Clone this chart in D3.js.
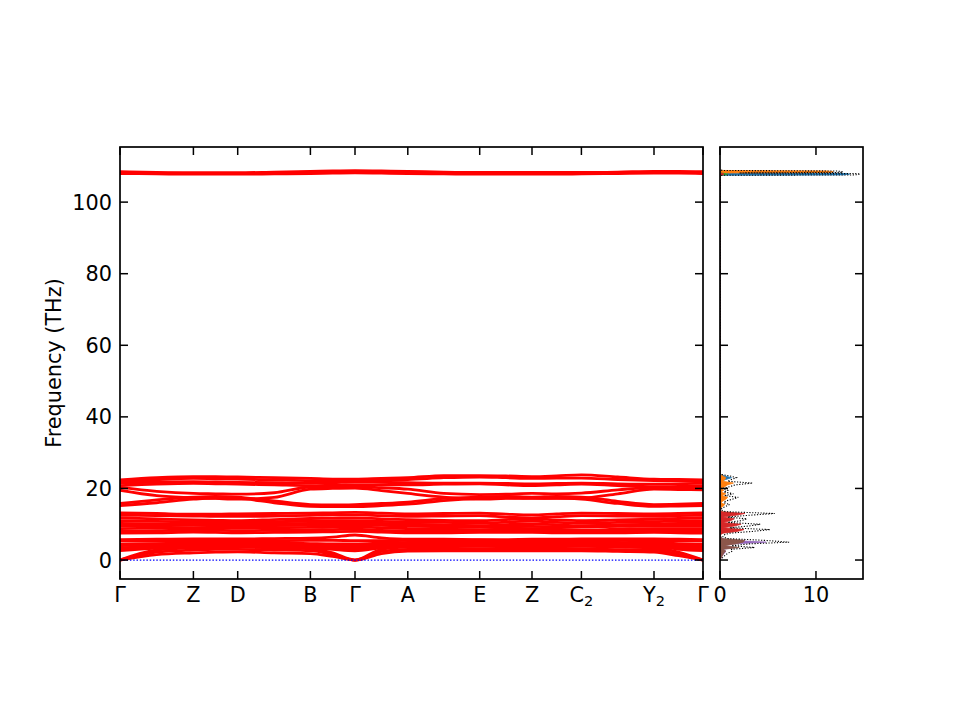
<!DOCTYPE html>
<html><head><meta charset="utf-8">
<script src="https://cdn.jsdelivr.net/npm/d3@7"></script>
<style>body{margin:0;background:#fff}svg{display:block}text{font-family:"DejaVu Sans",sans-serif;fill:#000}</style>
</head><body><div id="chart"></div>
<script>
// ---- k-path ----
const kPath = [0, 0.0367, 0.0734, 0.0956, 0.1177, 0.1541, 0.1904, 0.2127, 0.2350, 0.2614, 0.2878, 0.3238, 0.3597, 0.3859, 0.4120, 0.4367, 0.4614, 0.4977, 0.5340, 0.5585, 0.5830];
const kTickPos = [0, 0.0734, 0.1177, 0.1904, 0.2350, 0.2878, 0.3597, 0.4120, 0.4614, 0.5340, 0.5830];
const kTickLabels = [["Γ",""],["Z",""],["D",""],["B",""],["Γ",""],["A",""],["E",""],["Z",""],["C","2"],["Y","2"],["Γ",""]];
const freqTicks = [0, 20, 40, 60, 80, 100];
const dosTicks = [0, 10];

// ---- bands (THz), values at kPath points ----
const acoustic1 = [0,1.5,2.0,2.2,2.3,2.0,1.8,1.0,0,1.8,2.5,2.6,2.6,2.6,2.6,2.6,2.6,2.4,2.2,1.2,0];
const acoustic2 = [0,2.2,2.8,3.0,3.0,2.8,2.6,1.5,0,2.4,3.0,3.1,3.2,3.1,3.0,3.1,3.2,2.9,2.8,1.6,0];
const acoustic3 = [0,2.8,3.4,3.5,3.6,3.4,3.2,2.0,0,3.0,3.6,3.7,3.8,3.7,3.6,3.7,3.8,3.6,3.4,2.2,0];
const low1 = [2.6,3.3,3.8,3.9,4.0,3.8,3.5,3.0,2.6,3.4,4.0,4.1,4.0,4.0,4.0,4.1,4.0,3.9,3.8,3.0,2.6];
const low2 = [3.4,3.9,4.3,4.4,4.4,4.2,4.0,3.7,3.4,4.0,4.4,4.5,4.5,4.4,4.4,4.5,4.5,4.3,4.2,3.8,3.4];
const low3 = [4.5,4.6,4.8,4.9,4.9,4.8,4.6,4.5,4.5,4.7,4.9,5.0,5.0,4.9,4.9,5.0,5.0,4.9,4.8,4.6,4.5];
const low4 = [5.4,5.3,5.2,5.2,5.3,5.4,5.5,5.5,5.4,5.4,5.5,5.6,5.6,5.5,5.5,5.6,5.6,5.5,5.4,5.4,5.4];
const low5 = [5.7,5.8,5.9,5.9,5.9,6.0,6.1,6.4,7.0,6.2,5.8,5.8,5.7,5.7,5.8,5.8,5.9,5.9,5.9,5.8,5.7];
const low6 = [4.0,4.2,4.5,4.6,4.6,4.5,4.3,4.1,4.0,4.3,4.6,4.7,4.7,4.6,4.6,4.7,4.7,4.6,4.5,4.2,4.0];
const low7 = [3.0,3.6,4.0,4.1,4.2,4.0,3.8,3.3,3.0,3.7,4.2,4.3,4.2,4.2,4.2,4.3,4.2,4.1,4.0,3.4,3.0];
const mid1 = [13.2,13.0,12.8,12.8,12.9,13.0,13.1,13.2,13.3,13.1,12.9,13.0,13.1,12.8,12.6,12.9,13.1,13.0,12.9,13.0,13.2];
const mid2 = [12.5,12.4,12.3,12.2,12.2,12.3,12.5,12.6,12.6,12.4,12.2,12.3,12.4,12.0,11.8,12.1,12.4,12.3,12.2,12.4,12.5];
const mid3 = [11.8,11.5,11.2,11.1,11.0,11.3,11.6,11.7,11.8,11.5,11.3,11.1,11.0,11.3,11.6,11.2,11.0,11.2,11.4,11.6,11.8];
const mid4 = [11.0,10.8,10.6,10.5,10.5,10.7,10.9,11.0,11.0,10.8,10.6,10.5,10.3,10.6,10.9,10.5,10.3,10.5,10.7,10.9,11.0];
const mid5 = [10.2,10.1,10.0,10.0,10.0,10.1,10.2,10.3,10.4,10.2,10.0,9.8,9.6,9.9,10.1,9.8,9.6,9.8,10.0,10.2,10.2];
const mid6 = [9.5,9.6,9.7,9.6,9.5,9.6,9.8,9.9,9.9,9.7,9.5,9.3,9.2,9.0,8.8,9.0,9.3,9.4,9.5,9.5,9.5];
const mid7 = [8.8,8.9,9.0,9.0,8.9,9.0,9.1,9.2,9.3,9.0,8.8,8.6,8.5,8.6,8.7,8.5,8.4,8.6,8.8,8.8,8.8];
const mid8 = [8.0,8.2,8.4,8.3,8.2,8.3,8.4,8.5,8.6,8.3,8.1,8.0,8.0,8.1,8.2,8.0,7.9,8.1,8.2,8.1,8.0];
const mid9 = [7.5,7.6,7.8,7.7,7.6,7.7,7.8,7.9,8.0,7.8,7.6,7.6,7.7,7.7,7.7,7.6,7.6,7.6,7.7,7.6,7.5];
const mid10 = [9.9,9.9,9.8,9.8,9.7,9.8,10.0,10.1,10.1,9.9,9.7,9.6,9.5,9.4,9.4,9.3,9.4,9.6,9.8,9.8,9.9];
const up1 = [22.4,23.0,23.3,23.3,23.2,23.0,22.8,22.6,22.6,22.8,23.0,23.6,23.6,23.5,23.3,23.5,23.8,23.2,22.6,22.5,22.4];
const up2 = [22.0,22.5,22.8,22.7,22.6,22.4,22.2,22.2,22.3,22.4,22.5,23.0,23.2,23.0,22.8,22.9,22.9,22.5,22.2,22.1,22.0];
const up3 = [21.5,21.8,21.9,21.8,21.7,21.6,21.5,21.6,21.8,21.7,21.6,21.5,21.5,21.4,21.3,21.4,21.5,21.3,21.2,21.3,21.5];
const up4 = [20.8,21.2,21.4,21.3,21.2,21.0,20.8,20.9,21.0,21.0,21.0,21.2,21.3,21.0,20.8,21.0,21.2,20.8,20.5,20.6,20.8];
const up5 = [20.3,19.2,18.6,18.5,18.4,18.8,20.4,20.5,20.5,20.2,19.8,18.6,18.3,18.4,18.6,18.5,18.7,19.6,20.3,20.2,20.0];
const up6 = [19.5,18.0,17.4,17.2,17.0,17.5,19.8,20.0,20.1,19.4,18.6,17.6,17.0,17.2,17.3,17.2,17.3,18.5,19.8,19.7,19.6];
const up7 = [15.8,16.8,17.6,17.8,17.6,16.5,15.5,15.4,15.5,15.8,16.2,17.2,17.6,17.8,17.6,17.8,17.6,16.4,15.5,15.6,15.8];
const up8 = [15.2,16.0,17.0,17.3,17.2,16.0,15.0,14.9,14.9,15.2,15.6,16.6,17.2,17.4,17.2,17.3,17.0,15.8,15.0,15.1,15.2];
const top1 = [108.5,108.3,108.2,108.2,108.2,108.4,108.6,108.7,108.8,108.7,108.6,108.4,108.3,108.3,108.3,108.3,108.3,108.4,108.6,108.6,108.5];
const top2 = [108.2,108.1,108.0,108.0,108.0,108.2,108.4,108.5,108.5,108.5,108.4,108.2,108.1,108.1,108.1,108.1,108.1,108.2,108.4,108.4,108.2];
const top3 = [108.0,107.9,107.8,107.8,107.8,107.9,108.0,108.1,108.2,108.1,108.0,107.9,107.8,107.8,107.8,107.8,107.9,108.0,108.1,108.1,108.0];
const bands = [acoustic1,acoustic2,acoustic3,low1,low2,low3,low4,low5,low6,low7,mid1,mid2,mid3,mid4,mid5,mid6,mid7,mid8,mid9,mid10,up1,up2,up3,up4,up5,up6,up7,up8,top1,top2,top3];

// ---- DOS (states/THz) ----
const dosFreq = [0,0.5,1,1.5,2,2.5,3,3.5,4,4.5,5,5.5,6,6.5,7,7.5,8,8.5,9,9.5,10,10.5,11,11.5,12,12.5,13,13.5,14,14.5,15,15.5,16,16.5,17,17.5,18,18.5,19,19.5,20,20.5,21,21.5,22,22.5,23,23.5,24,
  60,107.3,107.5,107.6,107.8,108.0,108.15,108.3,108.5,108.7,108.85,109.0];
const dosTotal = [0,0.2,0.4,0.6,0.9,1.3,1.2,3.6,1.2,3.0,7.2,4.6,0.8,0.3,0.4,1.0,3.4,5.2,1.0,3.0,4.2,0.8,2.2,2.8,0.8,3.0,5.7,0.6,0.1,0.2,0.6,1.0,0.4,0.6,1.3,1.9,0.5,1.4,0.4,0.8,0.3,1.0,1.6,3.4,0.8,1.2,1.7,1.0,0,
  0,0,0.2,14.0,14.6,14.2,2.0,12.6,12.8,12.2,0.3,0];
const dosC0 = [0,0,0,0,0,0,0,0,0,0,0,0,0,0,0,0,0,0,0,0,0,0,0,0,0,0,0,0,0,0,0,0,0,0,0,0,0,0,0,0,0,0,0.1,0.3,0.1,0.6,1.2,0.5,0,
  0,0,0,12.8,13.5,13.2,0.5,0,0,0,0,0];
const dosC1 = [0,0,0,0,0,0,0,0,0,0,0,0,0,0,0,0,0,0,0,0,0,0,0,0,0,0,0,0,0,0,0.3,0.5,0.1,0.3,0.6,0.8,0.2,0.6,0.1,0.4,0.1,0.5,0.8,1.4,0.3,0.5,0.6,0.3,0,
  0,0,0,0.2,0.3,0.4,0.8,11.6,11.8,11.2,0,0];
const dosC2 = [0,0,0,0,0,0,0,0,0,0,0,0,0,0,0,0.2,0.6,0.9,0.1,0.5,0.7,0.1,0.3,0.4,0.1,0.6,1.5,0.1,0,0,0,0,0,0,0,0,0,0,0,0,0,0,0,0,0,0,0,0,0,
  0,0,0,0.5,0.8,0.5,0,0,0,0,0,0];
const dosC3 = [0,0,0,0,0,0,0,0,0,0,0,0,0,0,0,0.3,1.8,2.5,0.3,1.5,2.2,0.3,1.1,1.5,0.3,1.6,2.6,0.2,0,0,0,0,0,0,0,0,0,0,0,0,0,0,0,0,0,0,0,0,0,
  0,0,0,0.3,0.4,0.3,0,0,0,0,0,0];
const dosC4 = [0,0.1,0.2,0.3,0.5,0.6,0.3,1.5,0.3,1.3,4.8,1.0,0.2,0.1,0,0,0,0,0,0,0,0,0,0,0,0,0,0,0,0,0,0,0,0,0,0,0,0,0,0,0,0,0,0,0,0,0,0,0,
  0,0,0,0,0,0,0,0,0,0,0,0];
const dosC5 = [0,0.1,0.2,0.3,0.4,0.6,0.3,2.0,0.4,1.6,2.4,2.6,0.2,0.1,0,0,0,0,0,0,0,0,0,0,0,0,0,0,0,0,0,0,0,0,0,0,0,0,0,0,0,0,0,0,0,0,0,0,0,
  0,0,0,0,0,0,0,0,0,0,0,0];
const dosPartials = [dosC0,dosC1,dosC2,dosC3,dosC4,dosC5];
const dosColors = ["#1f77b4","#ff7f0e","#2ca02c","#d62728","#9467bd","#8c564b"];

// ---- layout ----
const W = 960, H = 720;
const L = {x0:120, x1:703, y0:147, y1:579};
const R = {x0:720, x1:863};
const FS = 20.8, TL = 8;

const svg = d3.select("#chart").append("svg").attr("width",W).attr("height",H);
const y = d3.scaleLinear().domain([-5.3,115.4]).range([L.y1,L.y0]);
const xk = d3.scaleLinear().domain([0,0.5830]).range([L.x0,L.x1]);
const xd = d3.scaleLinear().domain([0,14.9]).range([R.x0,R.x1]);

const defs = svg.append("defs");
defs.append("clipPath").attr("id","cl").append("rect").attr("x",L.x0).attr("y",L.y0).attr("width",L.x1-L.x0).attr("height",L.y1-L.y0);
defs.append("clipPath").attr("id","cr").append("rect").attr("x",R.x0).attr("y",L.y0).attr("width",R.x1-R.x0).attr("height",L.y1-L.y0);

// bands
const gL = svg.append("g").attr("clip-path","url(#cl)");
const line = d3.line().x((d,i)=>xk(kPath[i])).y(d=>y(d)).curve(d3.curveMonotoneX);
gL.selectAll("path.band").data(bands).join("path").attr("class","band")
  .attr("d",line).attr("fill","none").attr("stroke","#ff0000").attr("stroke-width",2.8);
gL.append("line").attr("x1",xk(0)).attr("x2",xk(0.5830)).attr("y1",y(0)).attr("y2",y(0))
  .attr("stroke","#0000ff").attr("stroke-width",1.2).attr("stroke-dasharray","1.5,1.8");

// DOS
const gR = svg.append("g").attr("clip-path","url(#cr)");
dosPartials.forEach((arr,j)=>{
  const area = d3.area().y((d,i)=>y(dosFreq[i])).x0(xd(0)).x1(d=>xd(d));
  gR.append("path").datum(arr).attr("d",area).attr("fill",dosColors[j]).attr("stroke",dosColors[j]).attr("stroke-width",0.8);
});
const dline = d3.line().y((d,i)=>y(dosFreq[i])).x(d=>xd(d));
gR.append("path").datum(dosTotal).attr("d",dline).attr("fill","none").attr("stroke","#000").attr("stroke-width",1.1).attr("stroke-dasharray","1.2,1.6");

// frames & ticks
function frame(x0,x1){
  svg.append("rect").attr("x",x0).attr("y",L.y0).attr("width",x1-x0).attr("height",L.y1-L.y0)
    .attr("fill","none").attr("stroke","#000").attr("stroke-width",1.7);
  freqTicks.forEach(t=>{
    svg.append("line").attr("x1",x0).attr("x2",x0+TL).attr("y1",y(t)).attr("y2",y(t)).attr("stroke","#000").attr("stroke-width",1.5);
    svg.append("line").attr("x1",x1).attr("x2",x1-TL).attr("y1",y(t)).attr("y2",y(t)).attr("stroke","#000").attr("stroke-width",1.5);
  });
}
frame(L.x0,L.x1);
frame(R.x0,R.x1);

kTickPos.forEach((k,i)=>{
  const X = xk(k);
  svg.append("line").attr("x1",X).attr("x2",X).attr("y1",L.y1).attr("y2",L.y1-TL).attr("stroke","#000").attr("stroke-width",1.5);
  svg.append("line").attr("x1",X).attr("x2",X).attr("y1",L.y0).attr("y2",L.y0+TL).attr("stroke","#000").attr("stroke-width",1.5);
  const t = svg.append("text").attr("x",X).attr("y",602).attr("text-anchor","middle").attr("font-size",FS);
  t.append("tspan").text(kTickLabels[i][0]);
  if (kTickLabels[i][1]) t.append("tspan").attr("font-size",FS*0.7).attr("dy",4).text(kTickLabels[i][1]);
});
dosTicks.forEach(t=>{
  const X = xd(t);
  svg.append("line").attr("x1",X).attr("x2",X).attr("y1",L.y1).attr("y2",L.y1-TL).attr("stroke","#000").attr("stroke-width",1.5);
  svg.append("line").attr("x1",X).attr("x2",X).attr("y1",L.y0).attr("y2",L.y0+TL).attr("stroke","#000").attr("stroke-width",1.5);
  svg.append("text").attr("x",X).attr("y",602).attr("text-anchor","middle").attr("font-size",FS).text(t);
});
freqTicks.forEach(t=>{
  svg.append("text").attr("x",112).attr("y",y(t)).attr("dy","0.36em").attr("text-anchor","end").attr("font-size",FS).text(t);
});
svg.append("text").attr("transform",`translate(61,${(L.y0+L.y1)/2}) rotate(-90)`).attr("text-anchor","middle")
  .attr("font-size",FS).text("Frequency (THz)");
</script></body></html>
